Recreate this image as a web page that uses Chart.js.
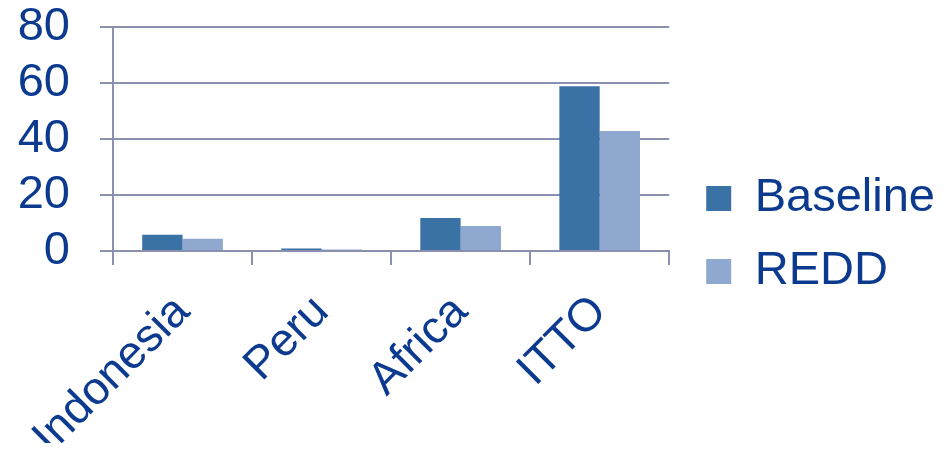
<!DOCTYPE html>
<html>
<head>
<meta charset="utf-8">
<script src="https://cdn.jsdelivr.net/npm/chart.js@4"></script>
<style>
  html, body { margin: 0; padding: 0; background: #fff; }
  #wrap { width: 945px; height: 457px; }
</style>
</head>
<body>
<div id="wrap"><canvas id="grafico"></canvas></div>
<script>
const regions = ['Indonesia', 'Peru', 'Africa', 'ITTO'];
const baseline = [5.8, 0.9, 11.8, 58.8];
const redd = [4.4, 0.5, 8.9, 42.9];
const yTicks = [0, 20, 40, 60, 80];

const navy = '#0b3a8f';
const gridColor = '#8b90b0';
const fontFamily = 'Liberation Sans, Arial, sans-serif';

const ctx = document.getElementById('grafico').getContext('2d');

new Chart(ctx, {
  type: 'bar',
  data: {
    labels: regions,
    datasets: [{
      label: 'Baseline',
      data: baseline,
      backgroundColor: '#3a72a6',
      categoryPercentage: 0.58,
      barPercentage: 1.0
    }, {
      label: 'REDD',
      data: redd,
      backgroundColor: '#8fa8cf',
      categoryPercentage: 0.58,
      barPercentage: 1.0
    }]
  },
  options: {
    responsive: true,
    maintainAspectRatio: false,
    animation: false,
    layout: {
      padding: { top: 27, left: 0, right: 0, bottom: 14 }
    },
    plugins: {
      tooltip: { enabled: false },
      legend: {
        position: 'right',
        maxWidth: 300,
        labels: {
          color: navy,
          boxWidth: 25,
          boxHeight: 25,
          padding: 26,
          font: { family: fontFamily, size: 47 }
        }
      }
    },
    scales: {
      x: {
        grid: {
          display: true,
          drawOnChartArea: false,
          drawTicks: true,
          tickLength: 14,
          color: gridColor,
          lineWidth: 2
        },
        border: { color: gridColor, width: 2 },
        ticks: {
          color: navy,
          maxRotation: 45,
          minRotation: 45,
          padding: 20,
          font: { family: fontFamily, size: 46 }
        },
        afterFit: (scale) => {
          scale.paddingLeft = 0;
          scale.paddingRight = 0;
          scale.height = 192;
        }
      },
      y: {
        min: 0,
        max: 80,
        afterBuildTicks: (axis) => {
          axis.ticks = yTicks.map(v => ({ value: v }));
        },
        grid: {
          color: gridColor,
          lineWidth: 2,
          tickLength: 13
        },
        border: { color: gridColor, width: 2 },
        ticks: {
          autoSkip: false,
          color: navy,
          padding: 30,
          font: { family: fontFamily, size: 47 }
        },
        afterFit: (scale) => {
          scale.paddingTop = 0;
          scale.paddingBottom = 0;
          scale.width = 113;
        }
      },
      // empty spacer between the plot and the legend
      gap: {
        type: 'linear',
        position: 'right',
        display: true,
        grid: { display: false, drawTicks: false },
        border: { display: false },
        ticks: { display: false },
        afterFit: (scale) => {
          scale.width = 11;
        }
      }
    }
  }
});
</script>
</body>
</html>
